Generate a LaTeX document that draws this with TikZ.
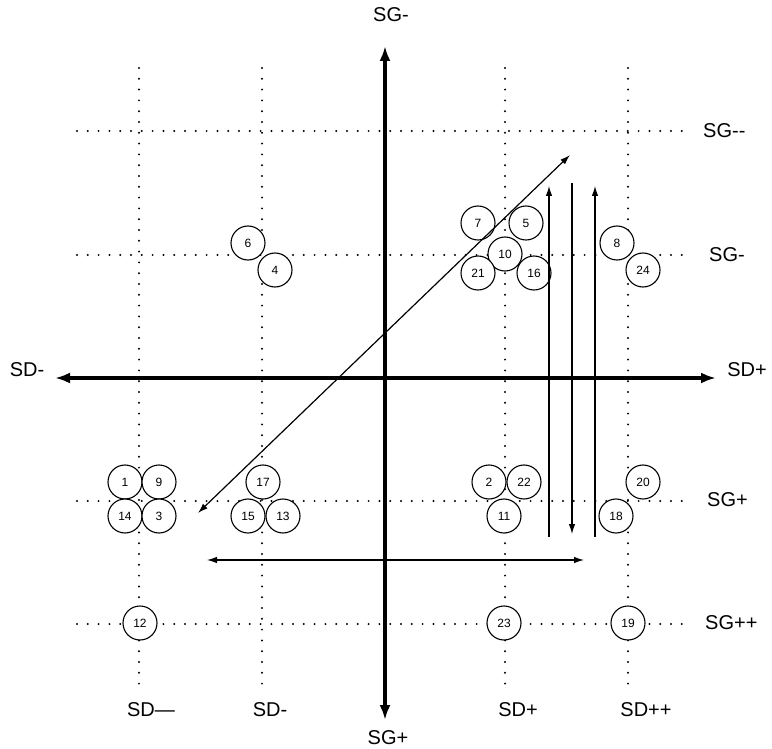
\documentclass[tikz,border=0pt]{standalone}
\usepackage{fontspec}
\setmainfont{Liberation Sans}[Ligatures=TeXOff]
\usetikzlibrary{arrows.meta}
\begin{document}
\begin{tikzpicture}[x=1pt,y=-1pt,
  grid/.style={line width=2.2pt,line cap=round,dash pattern=on 0pt off 10.8pt},
  axis/.style={line width=3.5pt,{Latex[length=15pt,width=11pt]}-{Latex[length=15pt,width=11pt]}},
  thin/.style={line width=1.2pt},
  tip/.style={-{Latex[length=10pt,width=6.5pt]}},
  both/.style={{Latex[length=10pt,width=6.5pt]}-{Latex[length=10pt,width=6.5pt]}},
  num/.style={circle,draw,fill=white,line width=1.1pt,minimum size=34pt,inner sep=0pt,font=\fontsize{12}{13}\selectfont},
  lab/.style={font=\fontsize{20}{23}\selectfont,inner sep=0pt}]
\useasboundingbox (0,0) rectangle (772,749);
% dotted grid
\foreach \x/\n in {139/a,262/b,505/c,628/d}{
  \coordinate (vt\n) at (\x,68);
  \coordinate (vb\n) at (\x,692);
  \draw[grid] (vt\n) -- (vb\n);
}
\foreach \y/\n in {131/a,255/b,501/c,624/d}{
  \coordinate (hl\n) at (77,\y);
  \coordinate (hr\n) at (686,\y);
  \draw[grid] (hl\n) -- (hr\n);
}
% axes
\coordinate (axL) at (55,378);
\coordinate (axR) at (716,378);
\coordinate (axT) at (385,46);
\coordinate (axB) at (385,720);
\draw[axis] (axL) -- (axR);
\draw[axis] (axT) -- (axB);
% axis labels
\node[lab] (lSGtop) at (391,15) {SG-};
\node[lab] (lSGbot) at (388,738) {SG+};
\node[lab] (lSDl) at (27,370) {SD-};
\node[lab] (lSDr) at (747,370) {SD+};
\node[lab,anchor=west] (r1) at (703,131) {SG--};
\node[lab,anchor=west] (r2) at (709,255) {SG-};
\node[lab,anchor=west] (r3) at (707,500) {SG+};
\node[lab,anchor=west] (r4) at (705,623) {SG++};
\node[lab] (b1) at (151,710) {SD—};
\node[lab] (b2) at (270,710) {SD-};
\node[lab] (b3) at (518,710) {SD+};
\node[lab] (b4) at (646,710) {SD++};
% circles
\node[num] (n7) at (478,223) {7};
\node[num] (n5) at (526,223) {5};
\node[num] (n10) at (505,254) {10};
\node[num] (n21) at (478,273) {21};
\node[num] (n16) at (534,273) {16};
\node[num] (n8) at (617,243) {8};
\node[num] (n24) at (643,270) {24};
\node[num] (n6) at (248,243) {6};
\node[num] (n4) at (275,270) {4};
\node[num] (n1) at (125,482) {1};
\node[num] (n9) at (159,482) {9};
\node[num] (n14) at (125,516) {14};
\node[num] (n3) at (159,516) {3};
\node[num] (n17) at (263,482) {17};
\node[num] (n15) at (248,516) {15};
\node[num] (n13) at (283,516) {13};
\node[num] (n12) at (140,623) {12};
\node[num] (n2) at (489,482) {2};
\node[num] (n22) at (524,482) {22};
\node[num] (n11) at (504,516) {11};
\node[num] (n20) at (643,482) {20};
\node[num] (n18) at (616,516) {18};
\node[num] (n23) at (504,623) {23};
\node[num] (n19) at (628,623) {19};
% thin arrows
\coordinate (dA) at (570,155);
\coordinate (dB) at (198,513);
\draw[thin,both] (dA) -- (dB);
\coordinate (hA) at (207,560);
\coordinate (hB) at (584,560);
\draw[thin,both] (hA) -- (hB);
\coordinate (u1b) at (549,537);
\coordinate (u1t) at (549,186);
\draw[thin,tip] (u1b) -- (u1t);
\coordinate (d1t) at (572,183);
\coordinate (d1b) at (572,534);
\draw[thin,tip] (d1t) -- (d1b);
\coordinate (u2b) at (595,537);
\coordinate (u2t) at (595,186);
\draw[thin,tip] (u2b) -- (u2t);
\end{tikzpicture}
\end{document}
